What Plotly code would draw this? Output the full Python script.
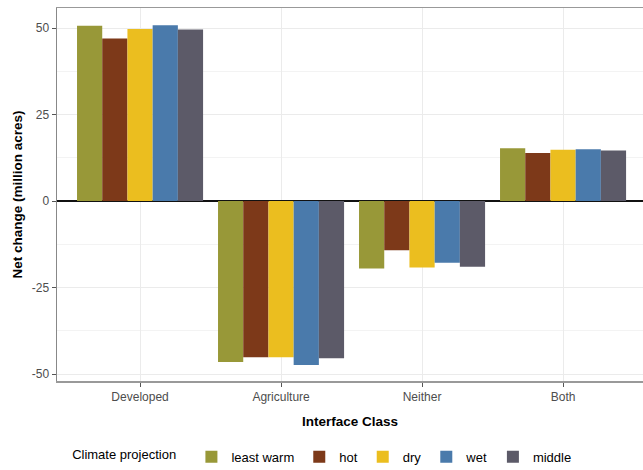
import plotly.graph_objects as go

categories = ["Developed", "Agriculture", "Neither", "Both"]
projections = ["least warm", "hot", "dry", "wet", "middle"]
least_warm = [50.7, -46.5, -19.5, 15.3]
hot = [47.0, -45.1, -14.2, 13.9]
dry = [49.7, -45.1, -19.2, 14.8]
wet = [50.8, -47.4, -17.8, 15.0]
middle = [49.6, -45.4, -19.0, 14.6]
series = [least_warm, hot, dry, wet, middle]
colors = ["#989838", "#7D3919", "#EBBE1F", "#4A7AAB", "#5C5A68"]
y_ticks = [-50, -25, 0, 25, 50]

FONT = "Liberation Sans, Arial, Helvetica, sans-serif"

fig = go.Figure()
for name, vals, col in zip(projections, series, colors):
    fig.add_trace(go.Bar(x=categories, y=vals, name=name, marker=dict(color=col, line=dict(width=0))))

fig.update_layout(
    width=643, height=470,
    margin=dict(l=57, r=0, t=8, b=89, autoexpand=False),
    paper_bgcolor="white", plot_bgcolor="white",
    barmode="group", bargap=0.106, bargroupgap=0,
    font=dict(family=FONT, size=12, color="#000000"),
    showlegend=True,
    legend=dict(
        orientation="h", x=0.455, xanchor="center",
        yref="container", y=0.028, yanchor="middle",
        title=dict(text="Climate projection  ", side="left", font=dict(size=13, color="#000")),
        font=dict(size=13, color="#000"),
        itemwidth=30, tracegroupgap=0,
    ),
    xaxis=dict(
        range=[-0.589, 3.567], automargin=False,
        showgrid=True, gridcolor="#ebebeb", gridwidth=1,
        showline=True, linecolor="#999999", linewidth=1.5, mirror=True,
        ticks="outside", ticklen=4, tickcolor="#555555", tickwidth=1,
        tickfont=dict(size=12, color="#4d4d4d"),
        title=dict(text="<b>Interface Class</b>", font=dict(size=13.5, color="#000"), standoff=13),
        zeroline=False,
    ),
    yaxis=dict(
        range=[-52.0, 55.8], automargin=False,
        tickvals=y_ticks, ticktext=[str(v) for v in y_ticks],
        showgrid=True, gridcolor="#ebebeb", gridwidth=1,
        minor=dict(dtick=12.5, tick0=0, showgrid=True, gridcolor="#f3f3f3", gridwidth=1),
        showline=True, linecolor="#888888", linewidth=1.5, mirror=False,
        ticks="outside", ticklen=4, tickcolor="#555555", tickwidth=1,
        tickfont=dict(size=12, color="#4d4d4d"),
        title=dict(text="<b>Net change (million acres)</b>", font=dict(size=13.5, color="#000"), standoff=6),
        zeroline=True, zerolinecolor="#111111", zerolinewidth=1.5,
    ),
)

fig.write_html(
    "out.html",
    config={"displayModeBar": False, "staticPlot": True},
    post_script="document.body.style.margin='0';document.body.style.overflow='hidden';",
)
